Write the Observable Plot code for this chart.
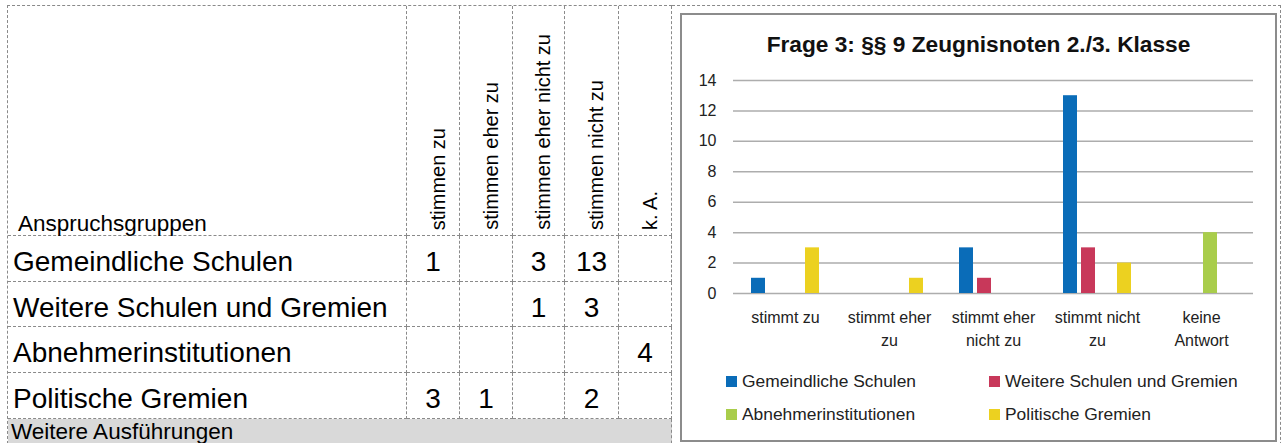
<!DOCTYPE html>
<html>
<head>
<meta charset="utf-8">
<script src="https://cdn.jsdelivr.net/npm/d3@7"></script>
<script src="https://cdn.jsdelivr.net/npm/@observablehq/plot@0.6"></script>
<style>
  html, body { margin: 0; padding: 0; background: #fff; overflow: hidden; width: 1283px; height: 443px; }
  body { position: relative; font-family: "Liberation Sans", Arial, sans-serif; color: #000; }
  #table {
    position: absolute; left: 7px; top: 5px;
    display: grid;
    grid-template-columns: 399px 53px 53px 52px 54px 53px;
    grid-template-rows: 230px 46px 45px 46px 46px 30px;
    border-left: 1px dashed #8a8a8a; border-top: 1px dashed #8a8a8a;
  }
  .cell {
    box-sizing: border-box;
    border-right: 1px dashed #8a8a8a; border-bottom: 1px dashed #8a8a8a;
    display: flex; align-items: center;
  }
  .hdr0 { align-items: flex-end; padding-left: 10px; font-size: 22.5px; line-height: 1; }
  .hdr { align-items: flex-end; justify-content: center; padding-left: 9px; padding-bottom: 5px; }
  .hdr span { writing-mode: vertical-rl; transform: rotate(180deg); font-size: 20px; line-height: 1; white-space: nowrap; }
  .lab { font-size: 28px; padding-left: 5px; padding-top: 7px; white-space: nowrap; }
  .val { font-size: 28px; justify-content: center; padding-top: 7px; }
  .more { grid-column: 1 / span 6; background: #d9d9d9; font-size: 22.5px; align-items: flex-start; padding: 2px 0 0 3px; line-height: 1; }
  #chartcell {
    position: absolute; left: 672px; top: 5px; width: 609px; height: 450px; box-sizing: border-box;
    border-top: 1px dashed #8a8a8a; border-right: 1px dashed #8a8a8a;
  }
  #chartbox {
    position: absolute; left: 680px; top: 13px; width: 597px; height: 429px; box-sizing: border-box;
    border: 2px solid #8c8c8c; background: #fff;
  }
  #title {
    position: absolute; left: 681px; width: 595px; top: 31px; text-align: center;
    font-size: 22.7px; font-weight: bold; color: #111; line-height: 26px; white-space: nowrap;
  }
  #plot { position: absolute; left: 681px; top: 60px; }
  .legend-item { position: absolute; font-size: 17.4px; line-height: 20px; white-space: nowrap; color: #222; display: flex; align-items: center; }
  .legend-item i { display: inline-block; width: 11px; height: 11px; margin-right: 5px; }
</style>
</head>
<body>
<div id="table"></div>
<div id="chartcell"></div>
<div id="chartbox"></div>
<div id="title">Frage 3: §§ 9 Zeugnisnoten 2./3. Klasse</div>
<div id="plot"></div>
<div id="legend"></div>
<script>
// ---- data ----
const tableCorner = "Anspruchsgruppen";
const tableHeaders = ["stimmen zu", "stimmen eher zu", "stimmen eher nicht zu", "stimmen nicht zu", "k. A."];
const groups = ["Gemeindliche Schulen", "Weitere Schulen und Gremien", "Abnehmerinstitutionen", "Politische Gremien"];
const gemeindlicheSchulen = [1, null, 3, 13, null];
const weitereSchulenUndGremien = [null, null, 1, 3, null];
const abnehmerinstitutionen = [null, null, null, null, 4];
const politischeGremien = [3, 1, null, 2, null];
const footerText = "Weitere Ausführungen";
const categories = ["stimmt zu", "stimmt eher zu", "stimmt eher nicht zu", "stimmt nicht zu", "keine Antwort"];
const categoryLabels = ["stimmt zu", "stimmt eher\nzu", "stimmt eher\nnicht zu", "stimmt nicht\nzu", "keine\nAntwort"];
const yTicks = [0, 2, 4, 6, 8, 10, 12, 14];
const colors = ["#0a6cb8", "#c8385a", "#a9cd4b", "#ecd120"];

const seriesValues = [gemeindlicheSchulen, weitereSchulenUndGremien, abnehmerinstitutionen, politischeGremien];

// ---- table ----
const table = document.getElementById("table");
function cell(cls, html) {
  const d = document.createElement("div");
  d.className = "cell " + cls;
  d.innerHTML = html;
  table.appendChild(d);
  return d;
}
cell("hdr0", tableCorner);
tableHeaders.forEach(h => cell("hdr", `<span>${h}</span>`));
groups.forEach((g, gi) => {
  cell("lab", g);
  seriesValues[gi].forEach(v => cell("val", v == null ? "" : String(v)));
});
cell("more", footerText);

// ---- chart ----
const data = [];
groups.forEach((g, gi) => {
  seriesValues[gi].forEach((v, ci) => {
    if (v != null && v !== 0) data.push({series: g, category: categories[ci], value: v});
  });
});

const barStep = 18, barWidth = 14;
const bandWidth = 104;
const bars = groups.map((g, i) => Plot.barY(data.filter(d => d.series === g), {
  x: "category", y: "value", fill: colors[i],
  dx: (i - (groups.length - 1) / 2) * barStep,
  insetLeft: (bandWidth - barWidth) / 2, insetRight: (bandWidth - barWidth) / 2
}));

const chart = Plot.plot({
  width: 595,
  height: 300,
  marginLeft: 52,
  marginRight: 23,
  marginTop: 20,
  marginBottom: 67,
  style: {fontFamily: "'Liberation Sans', Arial, sans-serif", fontSize: "16px", color: "#222", background: "transparent"},
  x: {domain: categories, padding: 0, label: null},
  y: {domain: [0, 14], label: null},
  marks: [
    Plot.gridY(yTicks, {stroke: "#adadad", strokeOpacity: 1, strokeWidth: 1.5}),
    Plot.axisY({ticks: yTicks, tickSize: 0, tickPadding: 17, fontSize: 16, label: null}),
    Plot.axisX({tickSize: 0, tickPadding: 14, fontSize: 16, lineHeight: 1.4, label: null,
      tickFormat: d => categoryLabels[categories.indexOf(d)]}),
    ...bars
  ]
});
document.getElementById("plot").appendChild(chart);

// ---- legend ----
const legend = document.getElementById("legend");
const legendPos = [[726, 371], [989, 371], [726, 404], [989, 404]];
groups.forEach((g, i) => {
  const d = document.createElement("div");
  d.className = "legend-item";
  d.style.left = legendPos[i][0] + "px";
  d.style.top = legendPos[i][1] + "px";
  d.innerHTML = `<i style="background:${colors[i]}"></i>${g}`;
  legend.appendChild(d);
});
</script>
</body>
</html>
